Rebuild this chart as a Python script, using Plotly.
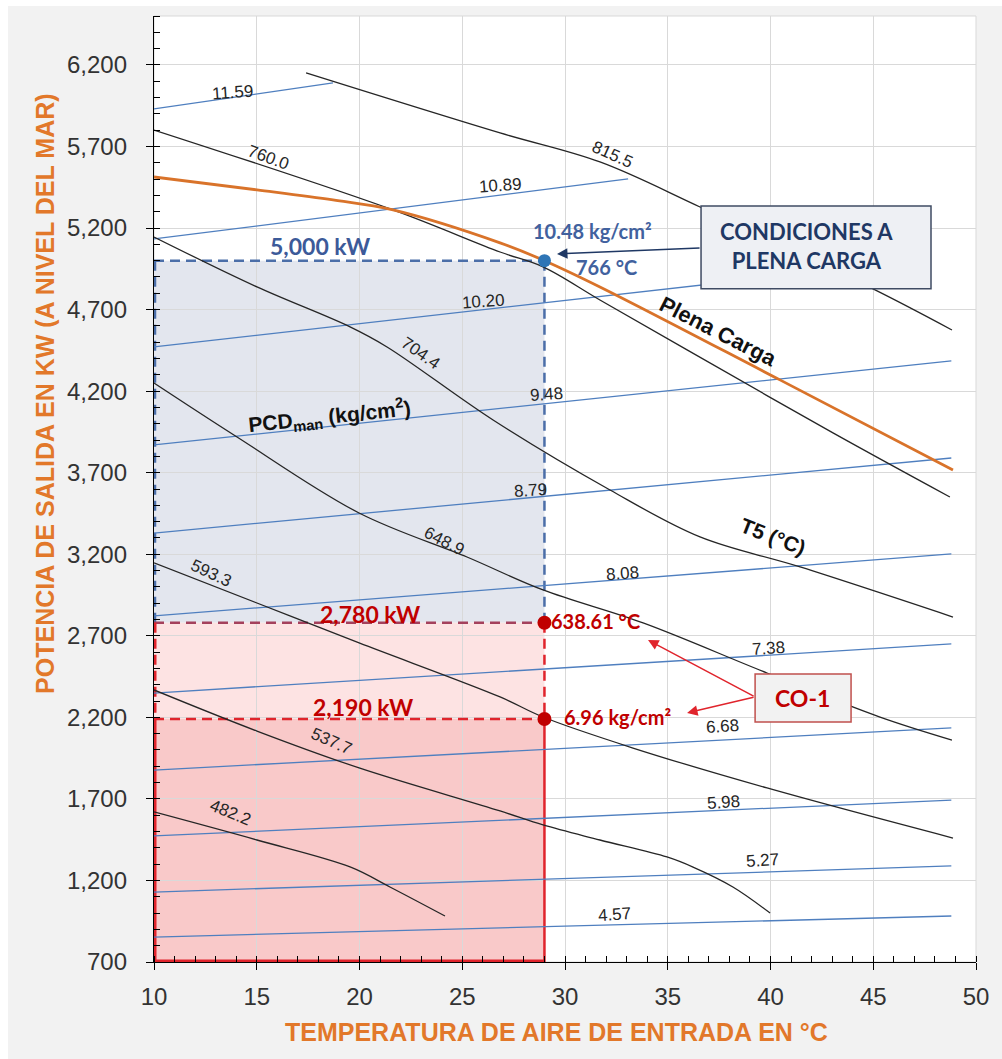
import plotly.graph_objects as go

# ---- T5 isotherms (inlet air temperature °C -> output power kW) ----
t5_levels = ["815.5", "760.0", "704.4", "648.9", "593.3", "537.7", "482.2"]

t5_8155_t = [17.40, 26.84, 31.70, 36.57, 44.99, 48.83]
t5_8155_p = [6151, 5783, 5605, 5329, 4827, 4575]

t5_7600_t = [10.0, 21.63, 26.84, 28.93, 31.70, 35.94, 43.04, 48.73]
t5_7600_p = [5801, 5311, 5053, 4962, 4759, 4453, 3944, 3551]

t5_7044_t = [10.0, 15.01, 19.54, 21.34, 26.50, 32.19, 36.57, 41.44, 48.88]
t5_7044_p = [5145, 4839, 4594, 4471, 4023, 3594, 3306, 3122, 2815]

t5_6489_t = [10.0, 14.04, 19.98, 25.23, 28.93, 33.80, 39.83, 45.33, 48.83]
t5_6489_p = [4250, 3919, 3453, 3183, 2981, 2779, 2472, 2202, 2061]

t5_5933_t = [10.0, 15.01, 19.98, 26.84, 28.93, 33.31, 39.83, 48.88]
t5_5933_p = [3147, 2901, 2656, 2325, 2202, 2012, 1767, 1460]

t5_5377_t = [10.0, 15.01, 19.98, 26.84, 28.93, 31.70, 34.96, 36.23, 38.17, 39.98]
t5_5377_p = [2368, 2116, 1890, 1626, 1540, 1448, 1344, 1282, 1160, 1000]

t5_4822_t = [10.0, 15.01, 19.54, 21.48, 24.16]
t5_4822_p = [1620, 1448, 1283, 1160, 982]

# ---- Full-load curve ----
plena_t = [10.0, 15.01, 18.71, 21.63, 26.84, 29.0, 31.70, 40.46, 48.88]
plena_p = [5513, 5434, 5372, 5311, 5109, 5000, 4839, 4269, 3717]

# ---- PCD (compressor discharge pressure, kg/cm²) lines ----
pcd_levels = ["11.59", "10.89", "10.20", "9.48", "8.79", "8.08",
              "7.38", "6.68", "5.98", "5.27", "4.57"]
pcd_t_start = [10, 10, 10, 10, 10, 10, 10, 10, 10, 10, 10]
pcd_p_start = [5930, 5133, 4471, 3870, 3330, 2822, 2349, 1877, 1473, 1129, 853]
pcd_t_end = [18.71, 33.07, 44.0, 48.8, 48.8, 48.8, 48.8, 48.8, 48.8, 48.8, 48.8]
pcd_p_end = [6090, 5501, 4955, 4385, 3790, 3202, 2650, 2135, 1693, 1289, 982]

# ---- Operating points ----
op_temp = 29
op_full_kw = 5000
op_co1_kw = [2780, 2190]
full_labels = ["10.48 kg/cm²", "766 °C"]
co1_labels = ["638.61 °C", "6.96 kg/cm²"]

x_range = [10, 50]
y_range = [700, 6500]

ARIAL = "Liberation Sans, Arial, sans-serif"
CALIBRI = "Lato, Carlito, Calibri, sans-serif"
BLACK_LINE = "#262626"
BLUE_LINE = "#4f7fbf"
ORANGE = "#d9732a"
TITLE_ORANGE = "#e2782a"
NAVY = "#1f3864"
DARK_BLUE = "#3c5a99"
RED_TXT = "#c00000"
RED_LINE = "#e0242c"

fig = go.Figure()

# PCD lines
for t0, p0, t1, p1 in zip(pcd_t_start, pcd_p_start, pcd_t_end, pcd_p_end):
    fig.add_trace(go.Scatter(x=[t0, t1], y=[p0, p1], mode="lines",
                             line=dict(color=BLUE_LINE, width=1.3),
                             hoverinfo="skip", showlegend=False))

# T5 lines
t5_series = [(t5_8155_t, t5_8155_p), (t5_7600_t, t5_7600_p), (t5_7044_t, t5_7044_p),
             (t5_6489_t, t5_6489_p), (t5_5933_t, t5_5933_p), (t5_5377_t, t5_5377_p),
             (t5_4822_t, t5_4822_p)]
for tx, py in t5_series:
    fig.add_trace(go.Scatter(x=tx, y=py, mode="lines",
                             line=dict(color=BLACK_LINE, width=1.3, shape="spline", smoothing=1.0),
                             hoverinfo="skip", showlegend=False))

# Full-load curve
fig.add_trace(go.Scatter(x=plena_t, y=plena_p, mode="lines",
                         line=dict(color=ORANGE, width=2.8, shape="spline", smoothing=1.0),
                         hoverinfo="skip", showlegend=False))

# Operating point markers
fig.add_trace(go.Scatter(x=[op_temp], y=[op_full_kw], mode="markers",
                         marker=dict(color="#2e75b6", size=13),
                         hoverinfo="skip", showlegend=False))
fig.add_trace(go.Scatter(x=[op_temp] * len(op_co1_kw), y=op_co1_kw, mode="markers",
                         marker=dict(color=RED_TXT, size=14),
                         hoverinfo="skip", showlegend=False))

shapes = []
# Shaded operating envelopes
shapes.append(dict(type="rect", xref="x", yref="y", x0=x_range[0], x1=op_temp,
                   y0=op_co1_kw[0], y1=op_full_kw, fillcolor="#e3e6ee",
                   line=dict(width=0), layer="below"))
shapes.append(dict(type="rect", xref="x", yref="y", x0=x_range[0], x1=op_temp,
                   y0=op_co1_kw[1], y1=op_co1_kw[0], fillcolor="#fde3e3",
                   line=dict(width=0), layer="below"))
shapes.append(dict(type="rect", xref="x", yref="y", x0=x_range[0], x1=op_temp,
                   y0=y_range[0], y1=op_co1_kw[1], fillcolor="#f9c9c9",
                   line=dict(width=0), layer="below"))


def seg(x0, y0, x1, y1, color, width, dash="solid"):
    shapes.append(dict(type="line", xref="x", yref="y", x0=x0, y0=y0, x1=x1, y1=y1,
                       line=dict(color=color, width=width, dash=dash), layer="between"))


DASH = "10px,6px"
# Full-load guides
seg(x_range[0], op_full_kw, op_temp, op_full_kw, "#4b6ea8", 2.5, DASH)
seg(op_temp, op_full_kw, op_temp, op_co1_kw[0], "#4b6ea8", 2.5, DASH)
seg(x_range[0], op_full_kw, x_range[0], op_co1_kw[0], "#4b6ea8", 4.5, DASH)
# CO-1 guides
seg(x_range[0], op_co1_kw[0], op_temp, op_co1_kw[0], "#a4405c", 2.5, DASH)
seg(op_temp, op_co1_kw[0], op_temp, op_co1_kw[1], RED_LINE, 2.5, DASH)
seg(x_range[0], op_co1_kw[1], op_temp, op_co1_kw[1], RED_LINE, 2.5, DASH)
seg(op_temp, op_co1_kw[1], op_temp, y_range[0], RED_LINE, 2.5)
seg(x_range[0], op_co1_kw[0], x_range[0], op_co1_kw[1], RED_LINE, 5, DASH)
seg(x_range[0], op_co1_kw[1], x_range[0], y_range[0], RED_LINE, 5)
seg(x_range[0], y_range[0], op_temp, y_range[0], RED_LINE, 5)

# Callout boxes
shapes.append(dict(type="rect", xref="x", yref="y", x0=36.62, x1=47.81, y0=4827, y1=5335,
                   fillcolor="#eef0f4", line=dict(color="#3f4b63", width=1.5), layer="above"))
shapes.append(dict(type="rect", xref="x", yref="y", x0=39.25, x1=43.92, y0=2172, y1=2466,
                   fillcolor="#f2f2f2", line=dict(color="#c0504d", width=1.5), layer="above"))

# Page frame: white strip on the left and top, light border round the plot area
shapes.append(dict(type="rect", xref="paper", yref="paper", x0=-0.19, x1=-0.1776,
                   y0=-0.11, y1=1.02, fillcolor="white", line=dict(width=0), layer="below"))
shapes.append(dict(type="rect", xref="paper", yref="paper", x0=-0.19, x1=1.04,
                   y0=1.0106, y1=1.02, fillcolor="white", line=dict(width=0), layer="below"))
shapes.append(dict(type="rect", xref="paper", yref="paper", x0=0, x1=1, y0=0, y1=1,
                   line=dict(color="#d9d9d9", width=1), layer="below"))

annotations = []


def text(x, y, s, size, color="#262626", family=ARIAL, angle=0, xanchor="center",
         xref="x", yref="y"):
    annotations.append(dict(x=x, y=y, xref=xref, yref=yref, text=s, showarrow=False,
                            textangle=angle, xanchor=xanchor, yanchor="middle",
                            font=dict(family=family, size=size, color=color)))


def arrow(hx, hy, tx, ty, color):
    annotations.append(dict(x=hx, y=hy, ax=tx, ay=ty, xref="x", yref="y",
                            axref="x", ayref="y", text="", showarrow=True,
                            arrowhead=2, arrowsize=1.4, arrowwidth=1.5,
                            arrowcolor=color, standoff=0))


# PCD line labels
pcd_lab_t = [13.80, 26.84, 26.01, 29.08, 28.30, 32.82, 39.88, 37.64, 37.69, 39.59, 32.43]
pcd_lab_p = [6034, 5458, 4747, 4177, 3588, 3085, 2625, 2141, 1681, 1325, 994]
for lt, lp, s in zip(pcd_lab_t, pcd_lab_p, pcd_levels):
    text(lt, lp, s, 17, angle=-4)

# T5 line labels
t5_lab_t = [32.29, 15.55, 22.99, 24.16, 12.82, 18.66, 13.70]
t5_lab_p = [5648, 5630, 4428, 3281, 3085, 2049, 1614]
t5_lab_a = [24, 20, 35, 27, 25, 24, 22]
for lt, lp, la, s in zip(t5_lab_t, t5_lab_p, t5_lab_a, t5_levels):
    text(lt, lp, s, 17, angle=la)

# Family labels
text(18.52, 4042, "<b>PCD<sub>man</sub> (kg/cm<sup>2</sup>)</b>", 21, color="#111111", angle=-6)
text(40.12, 3306, "<b>T5 (°C)</b>", 21, color="#111111", angle=21)
text(37.45, 4563, "<b>Plena Carga</b>", 22, color="#111111", angle=27)

# Full-load operating point
text(18.08, 5090, "<b>5,000 kW</b>", 23, color=DARK_BLUE, family=CALIBRI)
text(31.36, 5182, "<b>%s</b>" % full_labels[0], 20, color="#41619e", family=CALIBRI)
text(32.04, 4962, "<b>%s</b>" % full_labels[1], 20, color="#41619e", family=CALIBRI)
text(37.45, 5087, "<b>CONDICIONES A<br>PLENA CARGA</b>", 22, color=NAVY,
     family=CALIBRI, xanchor="left")
arrow(29.61, 5041, 36.62, 5078, NAVY)

# CO-1 operating point
text(20.51, 2834, "<b>2,780 kW</b>", 23, color=RED_TXT, family=CALIBRI)
text(20.17, 2264, "<b>2,190 kW</b>", 23, color=RED_TXT, family=CALIBRI)
text(29.20, 2791, "<b>%s</b>" % co1_labels[0], 20, color=RED_TXT, family=CALIBRI, xanchor="left")
text(29.85, 2202, "<b>%s</b>" % co1_labels[1], 20, color=RED_TXT, family=CALIBRI, xanchor="left")
text(41.58, 2319, "<b>CO-1</b>", 23, color=RED_TXT, family=CALIBRI)
arrow(34.04, 2674, 39.25, 2325, RED_LINE)
arrow(35.94, 2227, 39.25, 2325, RED_LINE)

# Axis titles
text(-0.1326, 4183, "<b>POTENCIA DE SALIDA EN KW (A NIVEL DEL MAR)</b>", 25,
     color=TITLE_ORANGE, angle=-90, xref="paper")
text(0.490, -0.074, "<b>TEMPERATURA DE AIRE DE ENTRADA EN °C</b>", 25,
     color=TITLE_ORANGE, xref="paper", yref="paper")

axis_common = dict(showline=True, linecolor="black", linewidth=1.3,
                   ticks="outside", ticklen=7, tickwidth=1.3, tickcolor="black",
                   showgrid=True, gridcolor="#d9d9d9", gridwidth=1, zeroline=False,
                   tickfont=dict(family=ARIAL, size=24, color="#333333"))

fig.update_layout(
    width=1002, height=1059,
    margin=dict(l=154, r=26, t=16, b=97),
    paper_bgcolor="#f2f2f2", plot_bgcolor="white",
    xaxis=dict(range=x_range, tick0=10, dtick=5, ticklabelstandoff=6,
               minor=dict(dtick=1, tick0=10, ticks="inside", ticklen=6,
                          tickcolor="black", tickwidth=1, showgrid=False),
               **axis_common),
    yaxis=dict(range=y_range, tick0=700, dtick=500, tickformat=",d",
               ticklabelstandoff=14,
               minor=dict(dtick=100, tick0=700, ticks="inside", ticklen=6,
                          tickcolor="black", tickwidth=1, showgrid=False),
               **axis_common),
    shapes=shapes,
    annotations=annotations,
    showlegend=False,
)

fig.write_html("out.html")
